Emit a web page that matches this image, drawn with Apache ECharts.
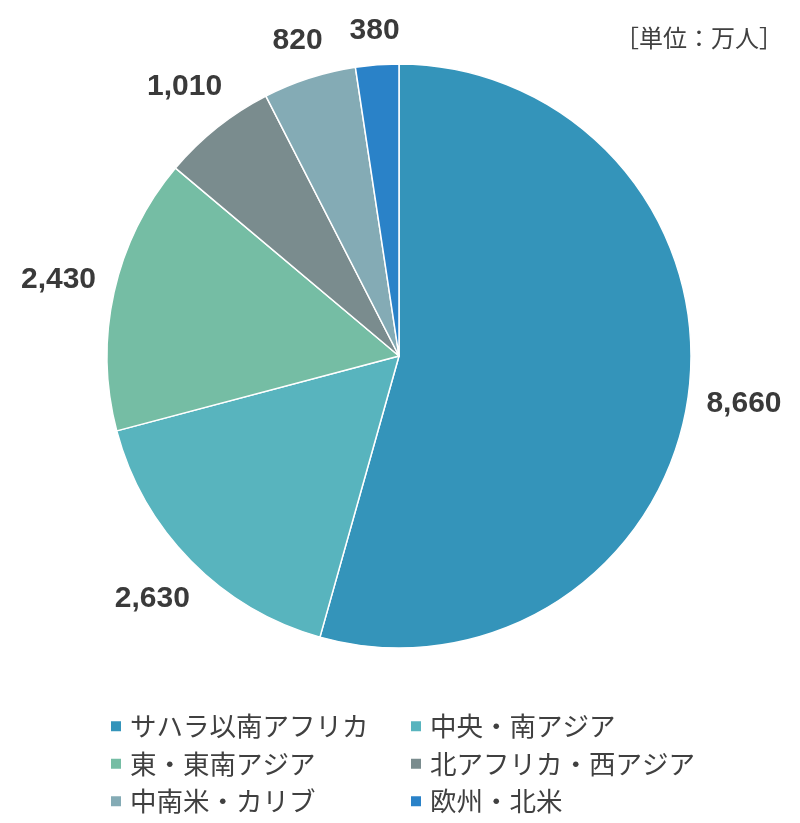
<!DOCTYPE html>
<html>
<head>
<meta charset="utf-8">
<script src="https://cdn.jsdelivr.net/npm/echarts@6/dist/echarts.min.js"></script>
<style>
html,body{margin:0;padding:0;background:#fff;}
#main{width:800px;height:823px;}
</style>
</head>
<body>
<div id="main"></div>
<script>
const categories = ['サハラ以南アフリカ', '中央・南アジア', '東・東南アジア', '北アフリカ・西アジア', '中南米・カリブ', '欧州・北米'];
const values = [8660, 2630, 2430, 1010, 820, 380];
const colors = ['#3494BA', '#58B4BE', '#75BDA4', '#7A8C8E', '#84ABB5', '#2A82C8'];
const unitLabel = '［単位：万人］';

const CX = 399, CY = 356, R = 292, GAP = 17;
const total = values.reduce((a, b) => a + b, 0);
const midAngles = [];
let cum = 0;
values.forEach(v => { midAngles.push((cum + v / 2) / total * 2 * Math.PI); cum += v; });

function fmt(n) { return String(n).replace(/\B(?=(\d{3})+(?!\d))/g, ','); }

const chart = echarts.init(document.getElementById('main'));
const legendText = { fontSize: 26.5, lineHeight: 26, color: '#404040', fontFamily: '"Noto Sans CJK JP", sans-serif', padding: [0, 0, 0, 3] };
const legendBase = { orient: 'vertical', top: 713, height: 110, padding: 0, icon: 'rect', itemWidth: 12, itemHeight: 12, itemGap: 11, textStyle: legendText, selectedMode: false };
chart.setOption({
  animation: false,
  title: {
    text: unitLabel, right: 12, top: 21,
    textStyle: { fontSize: 24, fontWeight: 'normal', color: '#404040', fontFamily: '"Noto Sans CJK JP", sans-serif' }
  },
  legend: [
    Object.assign({}, legendBase, { data: [categories[0], categories[2], categories[4]], left: 109 }),
    Object.assign({}, legendBase, { data: [categories[1], categories[3], categories[5]], left: 409 })
  ],
  series: [{
    type: 'pie',
    center: [CX, CY],
    radius: R,
    startAngle: 90,
    clockwise: true,
    avoidLabelOverlap: false,
    color: colors,
    data: categories.map((c, i) => ({ name: c, value: values[i] })),
    itemStyle: { borderColor: '#ffffff', borderWidth: 1.5 },
    label: {
      show: true, position: 'outside',
      formatter: p => fmt(p.value),
      fontSize: 30, fontWeight: 'bold', color: '#3a3a3a',
      fontFamily: '"Liberation Sans", Arial, sans-serif'
    },
    labelLine: { show: false, length: 10, length2: 0 },
    emphasis: { disabled: true },
    labelLayout: function (params) {
      const a = midAngles[params.dataIndex];
      const s = Math.sin(a), c = Math.cos(a);
      const w = params.labelRect.width, h = params.labelRect.height;
      const he = w / 2 * Math.abs(s) + h / 2 * Math.abs(c);
      const d = R + GAP + he;
      return { x: CX + d * s, y: CY - d * c, align: 'center', verticalAlign: 'middle' };
    }
  }]
});
</script>
</body>
</html>
